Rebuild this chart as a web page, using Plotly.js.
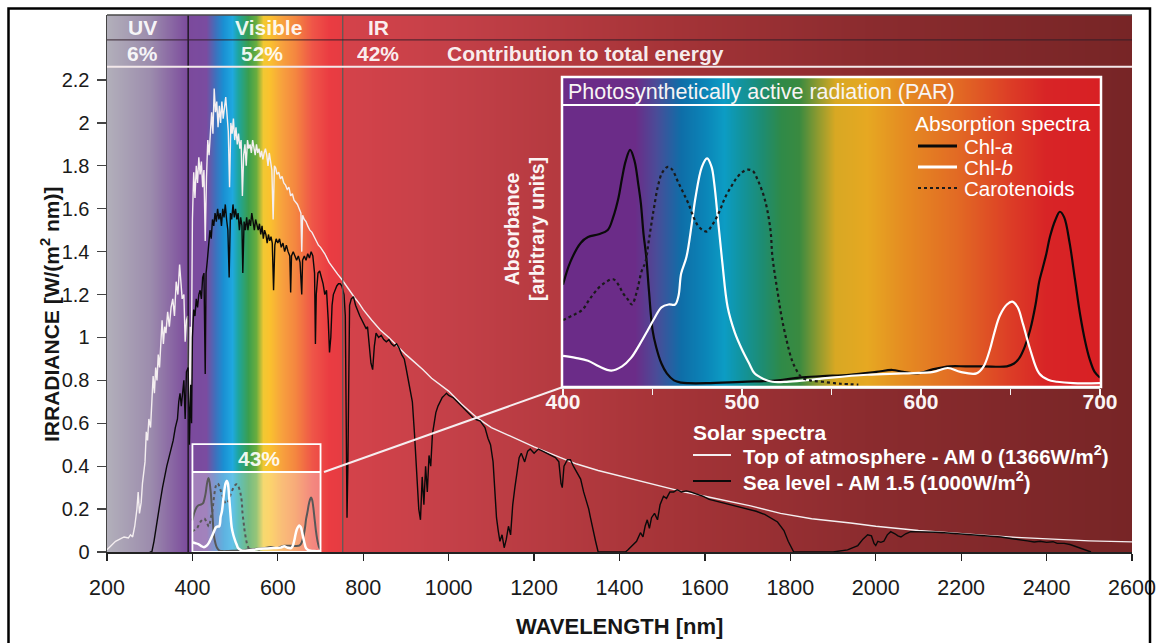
<!DOCTYPE html>
<html>
<head>
<meta charset="utf-8">
<script src="https://cdn.plot.ly/plotly-3.0.1.min.js"></script>
<style>html,body{margin:0;padding:0;background:#fff;}#chart{width:1159px;height:643px;}</style>
</head>
<body>
<div id="chart"></div>
<script>
// ---------- Solar spectra (W/(m^2 nm)) ----------
const am0Wl = [200,210,220,230,240,250,255,260,265,270,273,276,280,283,286,289,292,295,298,302,305,308,311,314,317,320,323,326,329,332,335,338,342,346,350,354,358,362,366,370,373,376,380,383,386,389,392,395,397,400,403,406,409,412,415,418,421,424,427,430,433,436,439,442,445,448,451,454,457,460,463,466,469,472,475,478,481,484,487,490,493,496,499,502,505,508,511,514,517,520,523,526,529,532,535,538,541,544,547,550,553,556,559,562,565,568,571,574,577,580,583,586,589,592,595,598,602,606,610,614,618,622,626,630,634,638,642,646,650,654,656,658,662,666,670,675,680,685,690,695,700,710,720,730,740,750,760,770,780,790,800,820,840,860,880,900,920,940,960,980,1000,1030,1067,1100,1150,1200,1262,1300,1350,1400,1450,1503,1550,1600,1650,1707,1777,1850,1941,2000,2100,2176,2250,2330,2410,2500,2600];
const am0Val = [0.01,0.03,0.05,0.06,0.07,0.065,0.08,0.07,0.12,0.20,0.28,0.18,0.23,0.32,0.36,0.42,0.56,0.52,0.62,0.58,0.70,0.82,0.74,0.86,0.80,0.92,0.86,1.00,1.08,0.97,1.05,1.02,1.12,1.05,1.14,1.18,1.10,1.26,1.20,1.34,1.26,1.18,1.20,0.98,1.08,1.10,0.62,1.05,0.75,1.55,1.77,1.65,1.80,1.72,1.84,1.76,1.82,1.70,1.78,1.45,1.75,1.92,1.85,1.98,2.05,1.95,2.16,2.05,2.10,1.98,2.08,2.00,2.10,2.02,2.08,2.12,2.04,1.96,1.70,2.00,1.95,2.02,1.92,1.98,1.90,1.95,1.88,1.92,1.66,1.85,1.90,1.80,1.92,1.88,1.90,1.86,1.92,1.88,1.85,1.90,1.86,1.88,1.84,1.87,1.83,1.86,1.88,1.85,1.80,1.86,1.82,1.78,1.55,1.80,1.79,1.76,1.77,1.74,1.75,1.72,1.71,1.69,1.70,1.66,1.67,1.64,1.63,1.62,1.60,1.58,1.40,1.57,1.55,1.54,1.52,1.50,1.49,1.47,1.45,1.43,1.42,1.39,1.35,1.32,1.295,1.27,1.24,1.21,1.185,1.16,1.13,1.08,1.035,1.00,0.96,0.92,0.885,0.85,0.81,0.78,0.75,0.69,0.625,0.58,0.535,0.49,0.44,0.41,0.38,0.355,0.33,0.30,0.28,0.26,0.24,0.215,0.18,0.155,0.135,0.12,0.10,0.088,0.078,0.068,0.06,0.052,0.047];

const am15Wl = [300,305,310,315,320,325,330,335,340,345,350,355,360,365,368,371,374,377,380,383,386,390,393,396,398,400,403,406,409,412,415,418,421,424,427,430,432,435,438,441,444,447,450,453,456,459,462,465,468,471,474,477,480,483,486,489,492,495,498,501,504,507,510,513,516,518,521,524,527,530,533,536,539,542,545,548,551,554,557,560,563,566,569,572,575,578,581,584,587,590,593,596,600,604,608,612,616,620,624,628,630,632,636,640,644,648,652,656,658,662,666,670,674,678,682,686,688,690,694,698,702,706,710,714,718,721,724,727,730,734,738,742,746,750,755,758,760,762,764,766,768,772,777,782,787,792,797,802,807,810,814,818,822,826,830,836,842,848,854,860,866,872,878,884,890,896,900,905,910,915,920,925,930,934,938,942,946,950,954,958,962,966,970,975,980,985,990,995,1000,1010,1020,1030,1040,1050,1060,1074,1085,1092,1098,1104,1108,1112,1116,1120,1125,1130,1135,1140,1145,1150,1155,1160,1165,1170,1178,1185,1191,1200,1210,1220,1230,1240,1250,1258,1263,1266,1270,1278,1285,1292,1300,1309,1316,1322,1328,1332,1338,1344,1350,1380,1414,1420,1430,1440,1449,1455,1460,1465,1470,1475,1482,1489,1495,1503,1510,1518,1527,1535,1545,1556,1566,1580,1595,1610,1620,1640,1660,1680,1699,1720,1740,1754,1770,1785,1795,1808,1850,1900,1934,1945,1958,1970,1981,1990,1996,2000,2005,2012,2019,2027,2035,2045,2052,2059,2070,2082,2100,2120,2140,2160,2176,2200,2230,2260,2293,2320,2340,2355,2371,2385,2400,2415,2425,2441,2455,2465,2473,2490,2504];
const am15Val = [0,0,0.05,0.12,0.18,0.24,0.30,0.36,0.40,0.44,0.48,0.52,0.58,0.62,0.70,0.74,0.68,0.76,0.80,0.62,0.84,0.86,0.50,0.78,0.60,1.00,1.13,1.10,1.18,1.14,1.20,1.22,1.18,1.28,1.30,0.83,1.30,1.36,1.44,1.50,1.46,1.55,1.52,1.58,1.54,1.60,1.55,1.58,1.52,1.60,1.56,1.62,1.55,1.50,1.28,1.58,1.55,1.62,1.56,1.60,1.55,1.58,1.50,1.56,1.52,1.30,1.54,1.50,1.56,1.50,1.55,1.52,1.58,1.54,1.50,1.55,1.52,1.50,1.53,1.48,1.52,1.46,1.50,1.48,1.44,1.48,1.45,1.47,1.44,1.22,1.43,1.46,1.44,1.46,1.42,1.44,1.40,1.43,1.40,1.38,1.21,1.38,1.40,1.38,1.36,1.38,1.35,1.20,1.36,1.38,1.36,1.39,1.37,1.40,1.38,1.30,0.97,1.20,1.30,1.31,1.28,1.25,1.20,1.22,1.08,0.93,1.00,1.15,1.20,1.22,1.24,1.25,1.25,1.24,1.20,1.10,0.30,0.16,0.40,0.90,1.15,1.18,1.19,1.15,1.12,1.10,1.08,1.06,1.04,1.05,0.95,0.88,0.85,0.96,1.02,1.00,1.01,0.99,0.98,0.99,0.97,0.96,0.97,0.95,0.92,0.90,0.86,0.80,0.74,0.70,0.55,0.40,0.20,0.15,0.35,0.22,0.40,0.28,0.45,0.40,0.55,0.60,0.65,0.68,0.70,0.72,0.73,0.74,0.73,0.72,0.70,0.68,0.66,0.64,0.62,0.61,0.58,0.53,0.50,0.42,0.30,0.16,0.10,0.05,0.08,0.02,0.06,0.12,0.08,0.22,0.30,0.38,0.44,0.46,0.42,0.47,0.48,0.46,0.48,0.47,0.46,0.45,0.44,0.42,0.32,0.30,0.40,0.43,0.43,0.40,0.37,0.34,0.28,0.24,0.20,0.16,0.10,0.05,0,0,0,0.01,0.03,0.05,0.09,0.07,0.12,0.15,0.11,0.16,0.18,0.15,0.22,0.26,0.25,0.28,0.28,0.29,0.28,0.285,0.28,0.27,0.26,0.245,0.24,0.23,0.22,0.21,0.20,0.19,0.175,0.16,0.14,0.10,0.05,0,0,0,0.01,0.02,0.03,0.06,0.08,0.075,0.04,0.03,0.05,0.045,0.05,0.08,0.095,0.085,0.075,0.07,0.085,0.095,0.095,0.094,0.092,0.09,0.088,0.085,0.08,0.075,0.07,0.062,0.058,0.052,0.047,0.05,0.045,0.048,0.04,0.04,0.035,0.028,0.02,0.01,0];

// ---------- Absorption spectra (arbitrary units) ----------
const chlAWl = [400,404,410,414,420,425,428,431,433,435,437.5,440,442,443.5,445,446.5,448,450,452,455,458,462,466,470,480,500,520,532,545,560,575,584,590,598,607,616,625,635,648,652,655,658,661,664,666,668,670,672,675,677.6,680,683,686,689,692,694,697,700];
const chlAVal = [0.36,0.44,0.51,0.53,0.54,0.555,0.60,0.67,0.74,0.80,0.84,0.80,0.72,0.65,0.54,0.46,0.34,0.20,0.14,0.08,0.045,0.02,0.012,0.01,0.01,0.015,0.02,0.03,0.035,0.04,0.05,0.057,0.05,0.045,0.06,0.07,0.07,0.07,0.07,0.08,0.10,0.14,0.20,0.29,0.37,0.42,0.47,0.53,0.59,0.62,0.60,0.51,0.38,0.25,0.15,0.10,0.05,0.03];
const chlBWl = [400,407,414,420,427,433,438,443,447.5,451,455,459,462.6,464.5,466,469,472,474,477.6,480.5,483,484.5,486.6,489,492,496,500,504,507,512,517,525,535,550,570,590,607,615,622,631,635,638.5,641,644,648,651,654,657,661,666,671,676,685,700];
const chlBVal = [0.107,0.10,0.09,0.07,0.055,0.07,0.10,0.15,0.20,0.24,0.28,0.29,0.29,0.32,0.40,0.46,0.58,0.67,0.78,0.81,0.78,0.72,0.59,0.44,0.28,0.19,0.13,0.08,0.045,0.025,0.015,0.015,0.02,0.03,0.04,0.045,0.05,0.064,0.05,0.045,0.07,0.13,0.19,0.25,0.29,0.30,0.28,0.22,0.13,0.045,0.022,0.015,0.01,0.01];
const carWl = [400,405,410.6,415,420,424,428,431,433.5,436,438.5,441,444,446,448,449.7,451,453,455.5,458.6,461,464,467,470,473,475.4,478,480.5,483,485,488,490.5,494,497,500,503,506,509,512,514,516,517,520,522,525,528,531,533.5,538,545,555,565];
const carVal = [0.235,0.25,0.27,0.31,0.35,0.37,0.38,0.36,0.33,0.31,0.29,0.33,0.41,0.44,0.52,0.59,0.64,0.71,0.76,0.78,0.77,0.73,0.69,0.65,0.60,0.57,0.555,0.55,0.57,0.59,0.63,0.67,0.71,0.74,0.76,0.77,0.765,0.73,0.68,0.63,0.55,0.46,0.33,0.25,0.16,0.09,0.05,0.03,0.02,0.015,0.008,0.005];

// ---------- Labels ----------
const xTicks = [200,400,600,800,1000,1200,1400,1600,1800,2000,2200,2400,2600];
const yTicks = [0,0.2,0.4,0.6,0.8,1,1.2,1.4,1.6,1.8,2,2.2];
const yTickText = ['0','0.2','0.4','0.6','0.8','1','1.2','1.4','1.6','1.8','2','2.2'];
const parTicks = [400,500,600,700];
const parTickText = ['400','500','600','700'];
const bandNames = ['UV','Visible','IR'];
const bandShares = ['6%','52%','42%'];
const bandLabelWl = [284,577,835];
const bandShareWl = [284,563,835];
const bandEdges = [390,752];
const parShare = '43%';
const solarNames = ['Top of atmosphere - AM 0 (1366W/m<sup>2</sup>)', 'Sea level - AM 1.5 (1000W/m<sup>2</sup>)'];
const pigmentNames = ['Chl-<i>a</i>', 'Chl-<i>b</i>', 'Carotenoids'];

// ---------- Background spectrum colour stops ----------
const specWl = [200,300,390,432,452,472,492,506,530,548,565,580,610,640,680,720,752,760,1000,1500,2000,2600];
const specCol = ['#b2afba','#9c8cad','#7b4a9c','#7a4ca0','#3f70bc','#1a8fd2','#1fa8e0','#1ea59e','#3a9e4e','#6aad3e','#f2c832','#fac22e','#f7a03e','#f48640','#ef5548','#ea3c42','#e53c42','#d4424a','#c44048','#a63438','#8a2b2e','#772526'];
const parWl = [400,440,452,466,480,490,500,512,522,532,542,552,570,590,620,650,670,700];
const parCol = ['#6b2c88','#6b2c88','#4a4c98','#0e6ea8','#0b86b8','#0c9cc4','#12939c','#1e8c70','#2f8a48','#3a8a40','#8c9a30','#d8a823','#e6a822','#e58c22','#e26a24','#dc3c26','#d82426','#d82024'];

function scale(wl, cols){
  const a = wl[0], b = wl[wl.length-1];
  return wl.map((w,i)=>[(w-a)/(b-a), cols[i]]);
}

const FONT = 'Arial, "Liberation Sans", Helvetica, sans-serif';
const miniScale = 0.41;

// pixel helpers for paper coordinates (plot area: x 107..1132, y 15..552)
const L=107, R=1132, T=15, B=552;
const px = v => (v-L)/(R-L);
const py = v => (B-v)/(B-T);

const solarStyle = [{color:'#f4eef0', width:1.4}, {color:'#0a0a0a', width:1.4}];
const pigStyle = [{color:'#0a0a0a', width:2.2}, {color:'#ffffff', width:2.2}, {color:'#1a1a1a', width:2.2, dash:'dot'}];

const traces = [
  {type:'heatmap', x:specWl, y:[-1,3.5], z:[specWl,specWl], zmin:specWl[0], zmax:specWl[specWl.length-1],
   colorscale:scale(specWl,specCol), zsmooth:'best', showscale:false, hoverinfo:'skip', xaxis:'x', yaxis:'y'},
  {type:'scatter', mode:'lines', x:am0Wl, y:am0Val, name:solarNames[0], line:solarStyle[0], showlegend:false, xaxis:'x', yaxis:'y'},
  {type:'scatter', mode:'lines', x:am15Wl, y:am15Val, name:solarNames[1], line:solarStyle[1], showlegend:false, xaxis:'x', yaxis:'y'},
  {type:'scatter', mode:'lines', x:chlAWl, y:chlAVal.map(v=>v*miniScale), showlegend:false,
   line:{color:'#111', width:2, shape:'spline'}, xaxis:'x', yaxis:'y'},
  {type:'scatter', mode:'lines', x:carWl, y:carVal.map(v=>v*miniScale), showlegend:false,
   line:{color:'#111', width:2, dash:'dot', shape:'spline'}, xaxis:'x', yaxis:'y'},
  {type:'scatter', mode:'lines', x:chlBWl, y:chlBVal.map(v=>v*miniScale), showlegend:false,
   line:{color:'#ffffff', width:2.5, shape:'spline'}, xaxis:'x', yaxis:'y'},
  {type:'heatmap', x:parWl, y:[-0.5,1.6], z:[parWl,parWl], zmin:parWl[0], zmax:parWl[parWl.length-1],
   colorscale:scale(parWl,parCol), zsmooth:'best', showscale:false, hoverinfo:'skip', xaxis:'x2', yaxis:'y2'},
  {type:'scatter', mode:'lines', x:chlAWl, y:chlAVal, name:pigmentNames[0], showlegend:false,
   line:Object.assign({shape:'spline'}, pigStyle[0]), xaxis:'x2', yaxis:'y2'},
  {type:'scatter', mode:'lines', x:chlBWl, y:chlBVal, name:pigmentNames[1], showlegend:false,
   line:Object.assign({shape:'spline'}, pigStyle[1]), xaxis:'x2', yaxis:'y2'},
  {type:'scatter', mode:'lines', x:carWl, y:carVal, name:pigmentNames[2], showlegend:false,
   line:Object.assign({shape:'spline'}, pigStyle[2]), xaxis:'x2', yaxis:'y2'}
];

const white = '#ffffff';
const shapes = [
  // band separators
  {type:'line', xref:'x', yref:'paper', x0:bandEdges[0], x1:bandEdges[0], y0:0, y1:1, line:{color:'#111', width:1.3}},
  {type:'line', xref:'x', yref:'paper', x0:bandEdges[1], x1:bandEdges[1], y0:0, y1:1, line:{color:'#5a5a5a', width:1.3}},
  // banner borders
  {type:'line', xref:'paper', yref:'paper', x0:0, x1:1, y0:1, y1:1, line:{color:'#4a4a4a', width:1.5}},
  {type:'line', xref:'paper', yref:'y', x0:0, x1:1, y0:2.387, y1:2.387, line:{color:'rgba(50,30,40,0.75)', width:1.2}},
  {type:'line', xref:'paper', yref:'y', x0:0, x1:1, y0:2.262, y1:2.262, line:{color:'#f3e8ea', width:2}},
  // mini PAR box
  {type:'rect', xref:'x', yref:'y', x0:400, x1:700, y0:0, y1:0.373, fillcolor:'rgba(255,255,255,0.3)', line:{width:0}},
  {type:'rect', xref:'x', yref:'y', x0:400, x1:700, y0:0, y1:0.503, line:{color:white, width:1.8}},
  {type:'line', xref:'x', yref:'y', x0:400, x1:700, y0:0.373, y1:0.373, line:{color:white, width:1.8}},
  // connector to inset
  {type:'line', xref:'paper', yref:'paper', x0:px(324), y0:py(472), x1:px(563), y1:py(387), line:{color:'#f6eef0', width:2}},
  // inset frame and title bar
  {type:'rect', xref:'paper', yref:'paper', x0:px(562), x1:px(1101), y0:py(387), y1:py(77), line:{color:white, width:2.5}},
  {type:'line', xref:'paper', yref:'paper', x0:px(562), x1:px(1101), y0:py(105), y1:py(105), line:{color:white, width:2}},
  // outer frame
  {type:'rect', xref:'paper', yref:'paper', x0:px(8.5), x1:px(1150), y0:py(660), y1:py(8.5), line:{color:'#000', width:2.5}}
];

const annotations = [];
// legend keys (solar spectra)
const solarKeyY = [455, 481];
solarKeyY.forEach((yy,i)=>{
  shapes.push({type:'line', xref:'paper', yref:'paper', x0:px(693), x1:px(731), y0:py(yy), y1:py(yy), line:{color:solarStyle[i].color, width:2}});
  annotations.push({xref:'paper', yref:'paper', x:px(741), y:py(yy), xanchor:'left', yanchor:'middle', text:solarNames[i], showarrow:false,
    font:{family:FONT, size:20.5, color:'#ffffff', weight:'bold'}});
});
annotations.push({xref:'paper', yref:'paper', x:px(691), y:py(432), xanchor:'left', yanchor:'middle', text:'Solar spectra', showarrow:false,
  font:{family:FONT, size:21, color:'#ffffff', weight:'bold'}});
// legend keys (absorption spectra)
const pigKeyY = [146, 167, 188];
pigKeyY.forEach((yy,i)=>{
  shapes.push({type:'line', xref:'paper', yref:'paper', x0:px(918), x1:px(957), y0:py(yy), y1:py(yy),
    line:{color:pigStyle[i].color, width:pigStyle[i].dash ? 2.2 : 3, dash:pigStyle[i].dash || 'solid'}});
  annotations.push({xref:'paper', yref:'paper', x:px(962), y:py(yy), xanchor:'left', yanchor:'middle', text:pigmentNames[i], showarrow:false,
    font:{family:FONT, size:20.5, color:'#ffffff'}});
});
annotations.push({xref:'paper', yref:'paper', x:px(913), y:py(124), xanchor:'left', yanchor:'middle', text:'Absorption spectra', showarrow:false,
  font:{family:FONT, size:21, color:'#ffffff'}});

const bannerFont = {family:FONT, size:21, color:'rgba(255,255,255,0.92)', weight:'bold'};
bandNames.forEach((t,i)=>annotations.push({xref:'x', yref:'y', x:bandLabelWl[i], y:2.445, text:t, showarrow:false, font:bannerFont}));
bandShares.forEach((t,i)=>annotations.push({xref:'x', yref:'y', x:bandShareWl[i], y:2.325, text:t, showarrow:false, font:bannerFont}));
annotations.push({xref:'x', yref:'y', x:991, y:2.325, xanchor:'left', text:'Contribution to total energy', showarrow:false, font:bannerFont});
annotations.push({xref:'x', yref:'y', x:556, y:0.436, text:parShare, showarrow:false, font:bannerFont});
annotations.push({xref:'paper', yref:'paper', x:px(566), y:py(92), xanchor:'left', yanchor:'middle', text:'Photosynthetically active radiation (PAR)', showarrow:false, font:{family:FONT, size:21.5, color:'#f8f4f4'}});
annotations.push({xref:'paper', yref:'paper', x:px(524), y:py(229), textangle:-90, text:'Absorbance<br>[arbitrary units]', showarrow:false, font:{family:FONT, size:19.5, color:'#fbf4f4', weight:'bold'}});
annotations.push({xref:'paper', yref:'paper', x:0.5, y:py(626), yanchor:'middle', text:'WAVELENGTH [nm]', showarrow:false, font:{family:FONT, size:22, color:'#161616', weight:'bold'}});
annotations.push({xref:'paper', yref:'paper', x:px(35), y:py(315), textangle:-90, text:'IRRADIANCE [W/(m<sup>2</sup> nm)]', showarrow:false, font:{family:FONT, size:21, color:'#161616', weight:'bold'}});

const layout = {
  width:1159, height:643,
  margin:{l:L, r:1159-R, t:T, b:643-B, pad:0},
  paper_bgcolor:'#ffffff', plot_bgcolor:'#ffffff',
  font:{family:FONT, color:'#161616'},
  showlegend:false,
  xaxis:{range:[200,2600], domain:[0,1], tickvals:xTicks, ticks:'outside', ticklen:7, tickwidth:1.3, tickcolor:'#222',
         showline:true, linecolor:'#222', linewidth:1.5, showgrid:false, zeroline:false, ticklabelstandoff:9,
         tickfont:{family:FONT, size:21.5, color:'#1a1a1a'}, fixedrange:true, layer:'above traces'},
  yaxis:{range:[0,2.503], domain:[0,1], tickvals:yTicks, ticktext:yTickText, ticks:'outside', ticklen:9, tickwidth:1.3, tickcolor:'#444',
         showline:true, linecolor:'#444', linewidth:1.5, showgrid:false, zeroline:false, ticklabelstandoff:3,
         tickfont:{family:FONT, size:20, color:'#1a1a1a'}, fixedrange:true, layer:'above traces'},
  xaxis2:{anchor:'y2', domain:[px(563), px(1100)], range:[400,700], tickvals:parTicks, ticktext:parTickText,
          ticks:'outside', ticklen:6, tickwidth:1.5, tickcolor:'#f4f4f4', showline:true, linecolor:'#d6d2d2', linewidth:3,
          minor:{tick0:400, dtick:50, ticks:'outside', ticklen:6, tickwidth:1.5, tickcolor:'#f4f4f4', showgrid:false},
          showgrid:false, zeroline:false, ticklabelstandoff:-11, tickfont:{family:FONT, size:21, color:'#fbf4f4', weight:'bold'}, fixedrange:true},
  yaxis2:{anchor:'x2', domain:[py(386), py(78)], range:[0,1.096], showticklabels:false, ticks:'',
          showline:true, linecolor:'#ffffff', linewidth:2, showgrid:false, zeroline:false, fixedrange:true},
  shapes:shapes,
  annotations:annotations
};

Plotly.newPlot('chart', traces, layout, {staticPlot:true, displayModeBar:false});
</script>
</body>
</html>
